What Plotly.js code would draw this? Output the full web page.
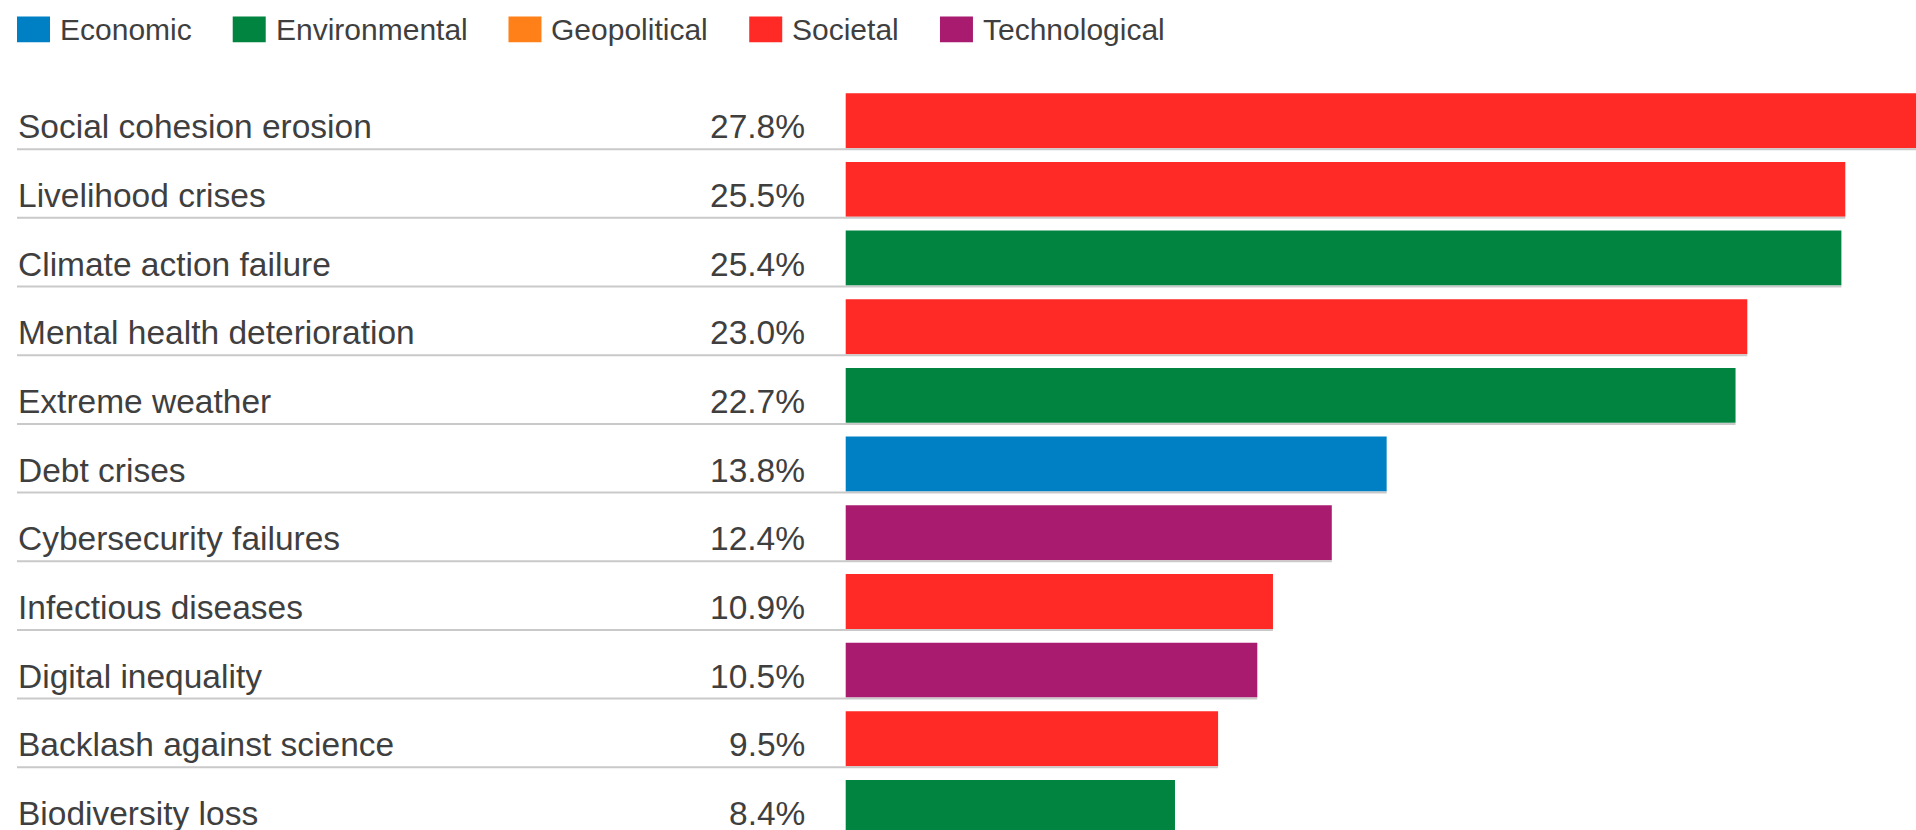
<!DOCTYPE html>
<html>
<head>
<meta charset="utf-8">
<script src="https://cdn.plot.ly/plotly-3.0.1.min.js"></script>
<style>
  html, body { margin: 0; padding: 0; background: #ffffff; }
  #chart { width: 1916px; height: 830px; }
</style>
</head>
<body>
<div id="chart"></div>
<script>
// ---- data ----
const categories = [
  'Social cohesion erosion',
  'Livelihood crises',
  'Climate action failure',
  'Mental health deterioration',
  'Extreme weather',
  'Debt crises',
  'Cybersecurity failures',
  'Infectious diseases',
  'Digital inequality',
  'Backlash against science',
  'Biodiversity loss'
];
const values = [27.8, 25.5, 25.4, 23.0, 22.7, 13.8, 12.4, 10.9, 10.5, 9.5, 8.4];
const categoryGroup = [
  'Societal', 'Societal', 'Environmental', 'Societal', 'Environmental',
  'Economic', 'Technological', 'Societal', 'Technological', 'Societal', 'Environmental'
];
const groups = ['Economic', 'Environmental', 'Geopolitical', 'Societal', 'Technological'];
const groupColors = ['#0080C4', '#00843F', '#FF8019', '#FF2A26', '#A81B6F'];
const valueLabels = values.map(v => v.toFixed(1) + '%');

// ---- styling / layout constants ----
const FONT = '"Liberation Sans", Arial, Helvetica, sans-serif';
const TEXT_COLOR = '#3f3f3f';
const W = 1916, H = 830;
const PX_PER_UNIT = 39.2;
const MARGIN_L = 17, MARGIN_T = 52.1;
const BAR_BASE_PX = 845.7;
const xMin = -(BAR_BASE_PX - MARGIN_L) / PX_PER_UNIT;
const xMax = xMin + (W - MARGIN_L) / PX_PER_UNIT;
const yTop = -1.0;
const yBottom = yTop + (H - MARGIN_T) / 68.67;

const colorOf = g => groupColors[groups.indexOf(g)];
const idx = categories.map((_, i) => i);

// separator lines under each row, from the left edge to the bar end
const sepX = [], sepY = [];
idx.forEach(i => {
  sepX.push(xMin, values[i], null);
  sepY.push(i + 0.415, i + 0.415, null);
});

const traces = [
  {
    type: 'bar',
    orientation: 'h',
    x: values,
    y: idx,
    width: 0.8,
    marker: { color: categoryGroup.map(colorOf), line: { width: 0 } },
    hoverinfo: 'skip',
    showlegend: false
  },
  {
    type: 'scatter',
    mode: 'lines',
    x: sepX,
    y: sepY,
    line: { color: '#c9c9c9', width: 2 },
    hoverinfo: 'skip',
    showlegend: false,
    connectgaps: false
  }
];

const annotations = [];
const shapes = [];

// category names (left) and value labels (right-aligned before the bars)
idx.forEach(i => {
  annotations.push({
    xref: 'paper', yref: 'y', x: 0, y: i,
    xanchor: 'left', yanchor: 'middle',
    xshift: -1, yshift: -6,
    text: categories[i], showarrow: false,
    font: { family: FONT, size: 33.5, color: TEXT_COLOR }
  });
  annotations.push({
    xref: 'x', yref: 'y', x: 0, y: i,
    xanchor: 'right', yanchor: 'middle',
    xshift: -39, yshift: -6,
    text: valueLabels[i], showarrow: false,
    font: { family: FONT, size: 33.5, color: TEXT_COLOR }
  });
});

// legend (custom, built from groups / groupColors)
const LEG_SIZE = 30;
const ctx = document.createElement('canvas').getContext('2d');
ctx.font = LEG_SIZE + 'px ' + FONT;
let legLeft = 17;
groups.forEach((g, k) => {
  const w = ctx.measureText(g).width;
  shapes.push({
    type: 'rect', xref: 'paper', yref: 'paper',
    xsizemode: 'pixel', ysizemode: 'pixel',
    xanchor: 0, yanchor: 1,
    x0: legLeft - MARGIN_L, x1: legLeft - MARGIN_L + 33,
    y0: MARGIN_T - 42.3, y1: MARGIN_T - 16.7,
    fillcolor: groupColors[k], line: { width: 0 }
  });
  annotations.push({
    xref: 'paper', yref: 'paper', x: 0, y: 1,
    xanchor: 'left', yanchor: 'middle',
    xshift: legLeft - MARGIN_L + 33 + 8, yshift: MARGIN_T - 29.2,
    text: g, showarrow: false,
    font: { family: FONT, size: LEG_SIZE, color: TEXT_COLOR }
  });
  legLeft = legLeft + 84 + w;
});

const layout = {
  width: W, height: H,
  margin: { l: MARGIN_L, r: 0, t: MARGIN_T, b: 0, pad: 0 },
  paper_bgcolor: '#ffffff',
  plot_bgcolor: '#ffffff',
  showlegend: false,
  xaxis: {
    range: [xMin, xMax], showgrid: false, zeroline: false,
    showticklabels: false, ticks: '', showline: false, fixedrange: true
  },
  yaxis: {
    range: [yBottom, yTop], showgrid: false, zeroline: false,
    showticklabels: false, ticks: '', showline: false, fixedrange: true
  },
  annotations: annotations,
  shapes: shapes,
  font: { family: FONT, color: TEXT_COLOR }
};

Plotly.newPlot('chart', traces, layout, { staticPlot: true, displayModeBar: false });
</script>
</body>
</html>
